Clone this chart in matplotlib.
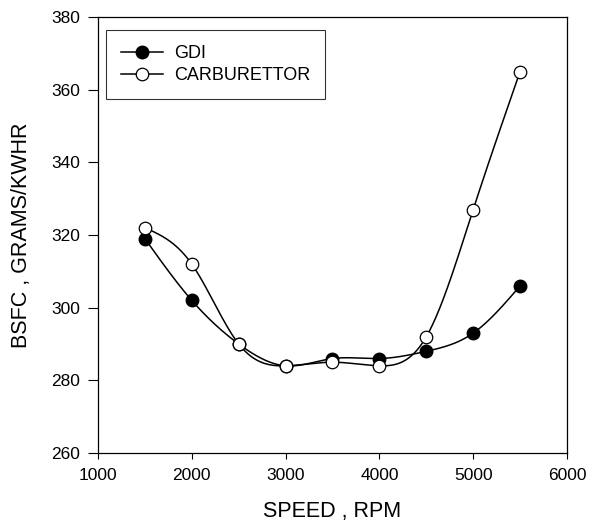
import numpy as np
import matplotlib
matplotlib.use("Agg")
import matplotlib.pyplot as plt

plt.rcParams['font.family'] = ['Liberation Sans', 'DejaVu Sans']

# data
speed = [1500, 2000, 2500, 3000, 3500, 4000, 4500, 5000, 5500]
gdi = [319, 302, 290, 284, 286, 286, 288, 293, 306]
carb = [322, 312, 290, 284, 285, 284, 292, 327, 365]


def natural_spline(x, y, n=300):
    # natural cubic spline through the points
    x = np.asarray(x, float)
    y = np.asarray(y, float)
    k = len(x)
    h = np.diff(x)
    A = np.zeros((k, k))
    b = np.zeros(k)
    A[0, 0] = 1
    A[-1, -1] = 1
    for i in range(1, k - 1):
        A[i, i - 1] = h[i - 1]
        A[i, i] = 2 * (h[i - 1] + h[i])
        A[i, i + 1] = h[i]
        b[i] = 6 * ((y[i + 1] - y[i]) / h[i] - (y[i] - y[i - 1]) / h[i - 1])
    M = np.linalg.solve(A, b)
    xs = np.linspace(x[0], x[-1], n)
    idx = np.clip(np.searchsorted(x, xs) - 1, 0, k - 2)
    x0, x1 = x[idx], x[idx + 1]
    hh = x1 - x0
    ys = (M[idx] * (x1 - xs) ** 3 / (6 * hh) + M[idx + 1] * (xs - x0) ** 3 / (6 * hh)
          + (y[idx] / hh - M[idx] * hh / 6) * (x1 - xs)
          + (y[idx + 1] / hh - M[idx + 1] * hh / 6) * (xs - x0))
    return xs, ys


fig = plt.figure(figsize=(5.91, 5.23), dpi=100)
ax = fig.add_axes([0.1658, 0.1338, 0.7936, 0.8337])

xs, ys = natural_spline(speed, gdi)
ax.plot(xs, ys, color='black', lw=1.1)
xs, ys = natural_spline(speed, carb)
ax.plot(xs, ys, color='black', lw=1.1)
ax.plot(speed, gdi, 'o', color='black', mfc='black', mec='black', ms=9, lw=0)
ax.plot(speed, carb, 'o', color='black', mfc='white', mec='black', ms=9, mew=0.9, lw=0)

# legend handles
ax.plot([], [], '-o', color='black', mfc='black', ms=9, lw=1.1, label='GDI')
ax.plot([], [], '-o', color='black', mfc='white', ms=9, mew=0.9, lw=1.1, label='CARBURETTOR')

ax.set_xlim(1000, 6000)
ax.set_ylim(260, 380)
ax.set_xticks([1000, 2000, 3000, 4000, 5000, 6000])
ax.set_yticks([260, 280, 300, 320, 340, 360, 380])
ax.tick_params(axis='y', direction='out', length=7, width=0.8, labelsize=12.5, pad=6)
ax.tick_params(axis='x', direction='out', length=4, width=0.8, labelsize=12.5, pad=7)
for s in ax.spines.values():
    s.set_linewidth(0.9)

ax.set_xlabel('SPEED , RPM', fontsize=15.5, labelpad=13)
ax.set_ylabel('BSFC , GRAMS/KWHR', fontsize=15.5, labelpad=14)

leg = ax.legend(loc='upper left', bbox_to_anchor=(0.017, 0.970), fontsize=13,
                frameon=True, fancybox=False, edgecolor='black', handlelength=2.3,
                borderpad=0.85, labelspacing=0.25, handletextpad=0.6, borderaxespad=0)
leg.get_frame().set_linewidth(0.8)

fig.savefig('out.png', dpi=100)
